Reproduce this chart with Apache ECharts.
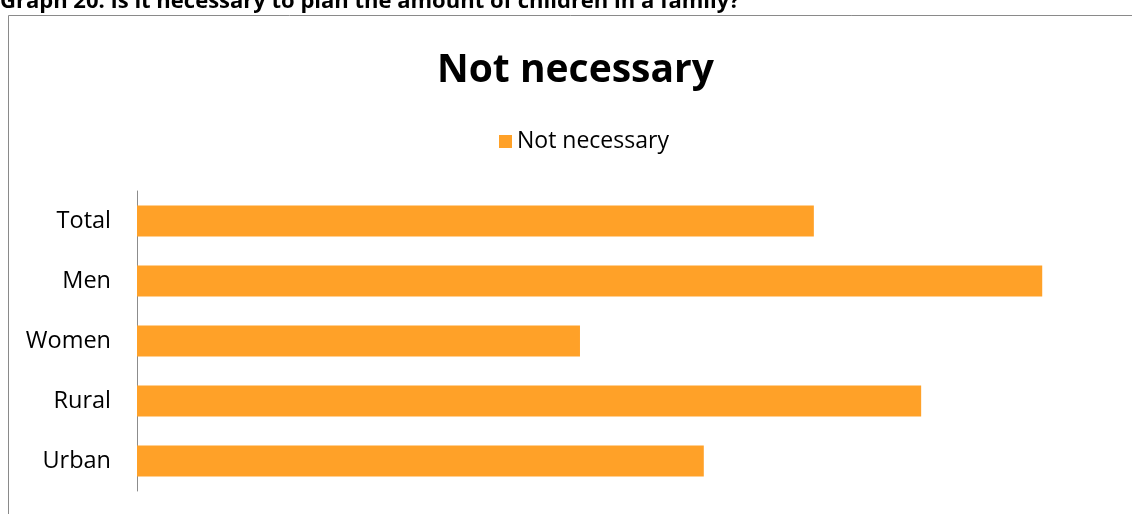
<!DOCTYPE html>
<html>
<head>
<meta charset="utf-8">
<script src="https://cdn.jsdelivr.net/npm/echarts@6/dist/echarts.min.js"></script>
<style>
  html, body { margin: 0; padding: 0; background: #fff; }
  #chart { width: 1132px; height: 514px; }
</style>
</head>
<body>
<div id="chart"></div>
<script>
// Share of respondents answering "Not necessary", by group (%)
const categories = ['Total', 'Men', 'Women', 'Rural', 'Urban'];
const notNecessary = [24.6, 32.9, 16.1, 28.5, 20.6];
const seriesName = 'Not necessary';
const headerText = 'Graph 20. Is it necessary to plan the amount of children in a family?';

const FONT = '"Open Sans", "Noto Sans", sans-serif';

const chart = echarts.init(document.getElementById('chart'), null, { renderer: 'canvas' });

chart.setOption({
  animation: false,
  backgroundColor: '#ffffff',
  title: {
    text: seriesName,
    left: 432,
    top: 46,
    textStyle: { fontFamily: FONT, fontSize: 39, fontWeight: 'bold', color: '#000' }
  },
  legend: {
    data: [seriesName],
    left: 494,
    top: 125,
    icon: 'rect',
    itemWidth: 13,
    itemHeight: 13,
    itemGap: 8,
    textStyle: { fontFamily: FONT, fontSize: 23, color: '#000' }
  },
  grid: { left: 137, right: 32, top: 191, bottom: 23, containLabel: false },
  xAxis: {
    type: 'value',
    min: 0,
    max: 35,
    show: false,
    splitLine: { show: false }
  },
  yAxis: {
    type: 'category',
    data: categories,
    inverse: true,
    axisLine: { show: true, lineStyle: { color: '#8c8c8c', width: 1 } },
    axisTick: { show: false },
    axisLabel: { margin: 26, fontFamily: FONT, fontSize: 23.5, color: '#000' }
  },
  series: [{
    name: seriesName,
    type: 'bar',
    data: notNecessary,
    barWidth: 31,
    itemStyle: { color: '#FFA128' }
  }],
  graphic: [
    {
      type: 'rect',
      shape: { x: 8.5, y: 15.5, width: 1140, height: 520 },
      style: { fill: null, stroke: '#8a8a8a', lineWidth: 1 },
      silent: true
    },
    {
      type: 'text',
      left: 0,
      top: -9,
      style: { text: headerText, fontFamily: FONT, fontSize: 22, fontWeight: 'bold', fill: '#000' },
      silent: true
    }
  ]
});
</script>
</body>
</html>
